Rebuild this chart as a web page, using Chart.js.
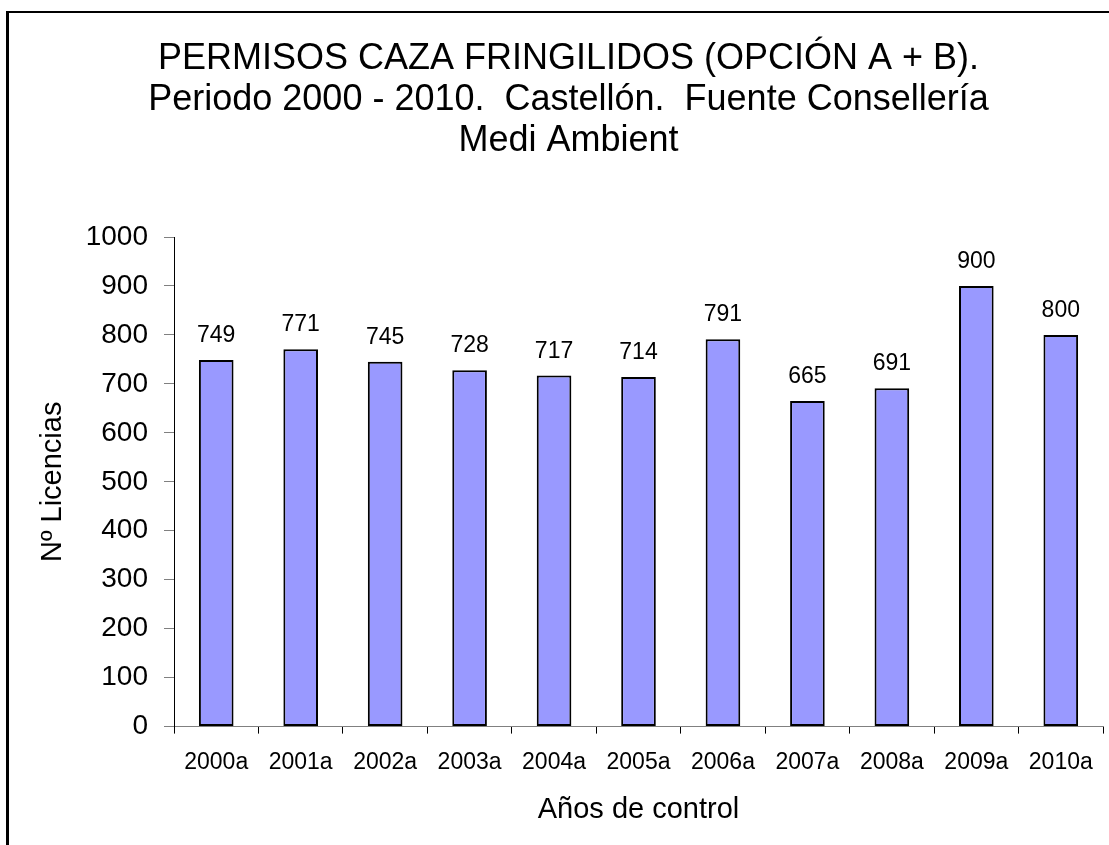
<!DOCTYPE html>
<html>
<head>
<meta charset="utf-8">
<title>Permisos caza fringilidos</title>
<script src="https://cdn.jsdelivr.net/npm/chart.js@4"></script>
<style>
  html, body { margin: 0; padding: 0; background: #fff; overflow: hidden; }
  #frame {
    position: absolute; left: 6px; top: 11px; width: 1200px; height: 900px;
    border-left: 3px solid #000; border-top: 2px solid #000;
  }
  #chart { position: absolute; left: 0; top: 0; }
</style>
</head>
<body>
<div id="frame"></div>
<canvas id="chart" width="1109" height="845"></canvas>
<script>
// categories and values
const years = ['2000a', '2001a', '2002a', '2003a', '2004a', '2005a', '2006a', '2007a', '2008a', '2009a', '2010a'];
const licencias = [749, 771, 745, 728, 717, 714, 791, 665, 691, 900, 800];
const yTicks = [0, 100, 200, 300, 400, 500, 600, 700, 800, 900, 1000];

const titleLines = [
    'PERMISOS CAZA FRINGILIDOS (OPCIÓN A + B).',
    'Periodo 2000 - 2010.  Castellón.  Fuente Consellería',
    'Medi Ambient'
];

const fontFamily = '"Liberation Sans", Arial, sans-serif';

// value above each bar
const barLabels = {
    id: 'barLabels',
    afterDatasetsDraw(chart) {
        const ctx = chart.ctx;
        const meta = chart.getDatasetMeta(0);
        ctx.save();
        ctx.font = '23px ' + fontFamily;
        ctx.fillStyle = '#000';
        ctx.textAlign = 'center';
        ctx.textBaseline = 'alphabetic';
        meta.data.forEach((bar, i) => {
            ctx.fillText(String(licencias[i]), bar.x, bar.y - 18);
        });
        ctx.restore();
    }
};

new Chart(document.getElementById('chart'), {
    type: 'bar',
    data: {
        labels: years,
        datasets: [{
            data: licencias,
            backgroundColor: '#9999ff',
            borderColor: '#000',
            borderWidth: 2,
            borderSkipped: false,
            barPercentage: 0.41,
            categoryPercentage: 1
        }]
    },
    options: {
        responsive: false,
        animation: false,
        devicePixelRatio: 1,
        // left padding only shifts the title centre, the y axis width makes up for it
        layout: { padding: { left: 34, right: 6, top: 0, bottom: 0 } },
        plugins: {
            legend: { display: false },
            tooltip: { enabled: false },
            title: {
                display: true,
                text: titleLines,
                color: '#000',
                font: { family: fontFamily, size: 36, weight: 'normal', lineHeight: 1.139 },
                padding: { top: 39, bottom: 75 }
            }
        },
        scales: {
            x: {
                border: { color: '#808080', width: 1 },
                grid: { drawOnChartArea: false, drawTicks: true, tickLength: 7, tickColor: '#000', offset: true },
                ticks: { color: '#000', padding: 15, maxRotation: 0, autoSkip: false, font: { family: fontFamily, size: 23 } },
                title: {
                    display: true,
                    text: 'Años de control',
                    color: '#000',
                    font: { family: fontFamily, size: 29 },
                    padding: { top: 1, bottom: 18 }
                }
            },
            y: {
                min: 0,
                max: 1000,
                afterBuildTicks(scale) {
                    scale.ticks = yTicks.map(v => ({ value: v }));
                },
                afterFit(scale) { scale.width = 140; },
                border: { color: '#000', width: 1 },
                grid: { drawOnChartArea: false, drawTicks: true, tickLength: 10, tickColor: '#808080' },
                ticks: {
                    color: '#000',
                    padding: 16,
                    font: { family: fontFamily, size: 28 },
                    callback: v => String(v)
                },
                title: {
                    display: true,
                    text: 'Nº Licencias',
                    color: '#000',
                    font: { family: fontFamily, size: 29 },
                    padding: { top: 2, bottom: 0 }
                }
            }
        }
    },
    plugins: [barLabels]
});
</script>
</body>
</html>
